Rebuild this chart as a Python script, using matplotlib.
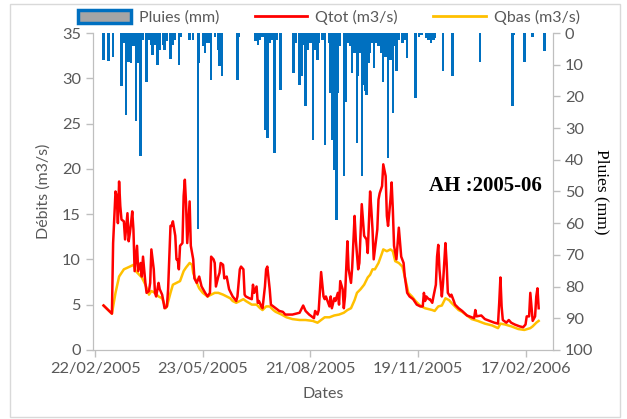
import numpy as np
import pandas as pd
import matplotlib
matplotlib.use('Agg')
import matplotlib.pyplot as plt
import matplotlib.dates as mdates
from matplotlib.patches import Patch, Rectangle
from matplotlib.lines import Line2D

# hydrological year 2005-06, day offsets from 01/03/2005
start = pd.Timestamp('2005-03-01')

qtot_day = [0, 7, 8, 10, 11, 12, 13, 14, 15, 17, 18, 20, 21, 22, 23, 24, 25, 26, 28, 29,
            31, 32, 33, 35, 36, 38, 39, 40, 42, 43, 44, 46, 47, 49, 50, 51, 53, 54, 56, 57,
            58, 60, 61, 62, 63, 64, 66, 67, 68, 69, 70, 72, 73, 75, 76, 78, 80, 82, 85, 87,
            89, 90, 92, 93, 94, 96, 97, 98, 100, 101, 103, 104, 105, 108, 111, 112, 114, 115, 117, 118,
            119, 122, 124, 125, 126, 128, 129, 130, 132, 133, 135, 136, 137, 139, 140, 142, 144, 147, 150, 152,
            158, 164, 167, 169, 172, 175, 176, 177, 179, 180, 182, 184, 185, 186, 189, 190, 191, 193, 194, 196,
            197, 198, 200, 201, 202, 204, 205, 207, 208, 210, 211, 213, 214, 216, 217, 218, 220, 221, 222, 223,
            224, 225, 226, 229, 230, 231, 233, 234, 236, 237, 238, 240, 241, 242, 243, 245, 247, 249, 251, 252,
            254, 256, 259, 262, 265, 267, 268, 269, 270, 272, 273, 275, 276, 278, 279, 280, 281, 283, 284, 286,
            287, 288, 290, 291, 293, 294, 297, 300, 304, 306, 310, 311, 312, 316, 319, 323, 327, 330, 331, 332,
            333, 334, 337, 339, 341, 344, 348, 351, 353, 354, 356, 357, 358, 359, 361, 362, 363, 364]
qtot = [4.9, 4.0, 11.8, 17.5, 17.0, 14.0, 18.6, 15.9, 14.4, 14.2, 12.2, 15.1, 12.0, 12.9, 14.0, 15.3, 13.3, 8.7, 11.5, 8.7,
        9.6, 8.1, 10.3, 7.4, 6.3, 6.5, 7.4, 11.1, 8.9, 6.3, 5.9, 7.4, 6.7, 6.1, 5.4, 4.6, 4.8, 6.7, 13.7, 13.7,
        14.2, 12.6, 10.0, 10.0, 8.9, 11.5, 11.8, 17.0, 18.8, 16.2, 11.8, 16.4, 11.5, 10.0, 7.9, 7.4, 8.1, 7.0, 6.3, 5.9,
        6.3, 10.3, 10.0, 9.6, 7.0, 8.1, 8.5, 9.6, 9.4, 7.9, 8.1, 7.4, 6.7, 5.9, 5.4, 5.9, 8.9, 9.2, 8.9, 6.1,
        5.9, 5.7, 5.6, 7.2, 6.3, 7.0, 5.2, 5.4, 4.8, 4.6, 7.0, 8.9, 9.2, 6.7, 5.0, 4.8, 4.6, 4.3, 4.2, 3.9,
        3.9, 4.1, 4.9, 4.3, 3.9, 3.6, 3.5, 4.3, 3.9, 4.4, 8.6, 5.9, 5.6, 5.9, 4.8, 5.9, 4.6, 5.7, 5.4, 6.3,
        5.0, 7.6, 6.7, 4.6, 5.9, 12.0, 8.9, 7.4, 9.1, 14.8, 12.2, 8.9, 9.6, 16.1, 14.4, 12.6, 12.2, 10.7, 14.0, 17.5,
        15.5, 13.3, 10.0, 13.3, 16.6, 17.3, 18.1, 20.5, 19.2, 14.8, 13.7, 16.6, 18.5, 15.5, 11.5, 10.0, 13.5, 10.3, 9.6, 8.1,
        6.3, 5.9, 5.6, 5.0, 4.8, 4.8, 6.3, 5.4, 5.9, 5.6, 5.6, 5.2, 5.9, 7.2, 10.3, 11.6, 8.9, 5.9, 7.4, 11.8,
        9.6, 6.3, 5.9, 6.1, 5.4, 5.0, 4.6, 4.3, 3.8, 3.7, 3.5, 4.4, 3.7, 3.8, 3.4, 3.2, 3.0, 2.9, 5.2, 8.0,
        4.8, 3.3, 3.0, 3.3, 3.0, 2.8, 2.6, 2.5, 2.8, 3.7, 3.7, 6.3, 4.8, 3.2, 3.7, 5.9, 6.8, 4.6]

qbas_day = [0, 7, 10, 13, 17, 22, 25, 27, 32, 35, 38, 40, 43, 46, 49, 52, 53, 56, 58, 61,
            64, 67, 69, 72, 74, 75, 78, 80, 83, 87, 90, 93, 96, 100, 103, 106, 108, 111, 114, 117,
            119, 124, 128, 131, 133, 136, 139, 142, 144, 149, 153, 158, 164, 169, 175, 179, 182, 185, 189, 193,
            197, 201, 204, 207, 210, 212, 215, 218, 221, 223, 225, 227, 230, 233, 234, 237, 240, 242, 244, 247,
            250, 252, 255, 258, 261, 264, 266, 269, 272, 275, 277, 280, 283, 286, 289, 291, 294, 297, 300, 305,
            308, 313, 319, 325, 330, 332, 336, 341, 347, 352, 357, 359, 362, 364]
qbas = [4.9, 4.0, 6.3, 8.1, 8.9, 9.2, 9.4, 8.7, 8.0, 7.2, 6.1, 6.5, 6.3, 5.9, 5.7, 4.6, 4.8, 6.3, 7.2, 7.4,
        7.6, 8.7, 9.1, 9.6, 9.4, 8.5, 7.4, 6.8, 6.3, 5.9, 6.1, 6.3, 6.3, 6.1, 5.9, 5.7, 5.4, 5.2, 5.4, 5.6,
        5.4, 5.0, 5.0, 4.6, 4.4, 4.8, 4.8, 4.4, 4.2, 3.9, 3.6, 3.4, 3.3, 3.3, 3.2, 3.0, 3.3, 3.6, 3.6, 3.8,
        3.9, 4.1, 4.4, 4.6, 5.5, 6.3, 6.7, 7.2, 8.0, 8.3, 8.9, 8.9, 9.6, 10.7, 11.1, 10.9, 11.1, 10.9, 9.8, 9.6,
        9.2, 8.1, 6.3, 5.9, 5.4, 5.0, 4.8, 4.6, 4.5, 4.4, 4.3, 4.8, 4.9, 5.7, 5.5, 5.2, 4.8, 4.4, 4.2, 3.7,
        3.4, 3.2, 2.9, 2.7, 2.4, 2.9, 2.8, 2.6, 2.3, 2.2, 2.4, 2.6, 3.0, 3.2]

rain_day = [0, 4, 8, 15, 17, 19, 21, 23, 25, 27, 29, 31, 33, 36, 38, 40, 41, 43, 45, 47,
            50, 51, 53, 56, 58, 60, 63, 65, 72, 75, 79, 80, 83, 85, 87, 88, 90, 93, 96, 97,
            99, 112, 113, 127, 129, 131, 133, 135, 137, 139, 141, 143, 145, 148, 159, 161, 164, 166, 167, 169,
            171, 173, 175, 177, 179, 180, 183, 185, 189, 190, 191, 193, 195, 196, 198, 201, 203, 205, 206, 208,
            210, 212, 213, 214, 216, 217, 219, 220, 222, 223, 225, 226, 228, 230, 232, 234, 236, 237, 238, 240,
            242, 243, 245, 247, 250, 252, 254, 261, 264, 266, 270, 272, 274, 276, 277, 284, 292, 315, 342, 343,
            352, 359, 369]
rain_mm = [8.4, 8.9, 7.4, 16.8, 3.2, 25.8, 9.0, 9.5, 4.2, 27.9, 9.5, 38.7, 2.1, 15.3, 2.1, 3.7, 6.8, 3.7, 10.0, 5.3,
           3.7, 5.3, 2.6, 8.2, 3.7, 2.1, 10.0, 1.1, 2.1, 2.1, 62.0, 9.5, 4.2, 6.3, 3.2, 3.2, 14.7, 1.1, 5.3, 10.5,
           13.7, 14.7, 1.1, 2.6, 3.7, 2.1, 1.1, 30.5, 33.1, 3.2, 2.1, 37.9, 2.1, 17.9, 12.6, 3.2, 16.3, 13.7, 3.7, 23.1,
           5.3, 3.2, 33.7, 5.3, 8.4, 3.2, 2.1, 35.2, 3.2, 18.9, 33.7, 43.1, 58.9, 18.9, 4.2, 45.2, 21.6, 3.2, 4.2, 12.6,
           6.3, 34.7, 13.7, 6.3, 45.2, 16.3, 18.4, 19.5, 9.5, 6.3, 3.2, 11.1, 3.2, 4.2, 6.3, 15.3, 7.4, 5.3, 39.4, 8.4,
           25.2, 4.2, 12.1, 2.1, 3.2, 2.1, 7.9, 20.5, 1.1, 0.5, 1.6, 2.1, 3.2, 2.1, 1.6, 12.1, 13.7, 9.0, 22.9, 0.5,
           9.0, 1.1, 5.5]

tick_dates = ['22/02/2005', '23/05/2005', '21/08/2005', '19/11/2005', '17/02/2006']

GRAY = '#595959'
AXC = '#BFBFBF'
plt.rcParams['font.family'] = ['Lato', 'DejaVu Sans']

qtot_dates = start + pd.to_timedelta(qtot_day, unit='D')
qbas_dates = start + pd.to_timedelta(qbas_day, unit='D')
rain_dates = start + pd.to_timedelta(rain_day, unit='D')

fig = plt.figure(figsize=(6.27, 4.19), dpi=100)
ax = fig.add_axes([0.148, 0.165, 0.734, 0.756])
ax2 = ax.twinx()

# flows on the left axis, rain hanging from the top on the right axis
ax.plot(qtot_dates, qtot, color='#FF0000', lw=1.8, zorder=3)
ax.plot(qbas_dates, qbas, color='#FFC000', lw=1.8, zorder=2)
ax2.bar(rain_dates, rain_mm, width=2.0, color='#0070C0', align='center')

ax.set_xlim(pd.Timestamp('2005-02-20'), pd.Timestamp('2006-03-12'))
ax.set_ylim(0, 35)
ax.set_yticks(np.arange(0, 36, 5))
ax2.set_ylim(100, 0)
ax2.set_yticks(np.arange(0, 101, 10))

ticks = pd.to_datetime(tick_dates, format='%d/%m/%Y')
ax.set_xticks(ticks)
ax.xaxis.set_major_formatter(mdates.DateFormatter('%d/%m/%Y'))

for a in (ax, ax2):
    for s in a.spines.values():
        s.set_color(AXC)
    a.spines['top'].set_visible(False)
    a.tick_params(colors=AXC, labelcolor=GRAY, labelsize=11.8, length=5, width=1)

ax.set_ylabel('Débits (m3/s)', color=GRAY, fontsize=11.5, labelpad=8)
ax.set_xlabel('Dates', color=GRAY, fontsize=11.5, labelpad=8)
ax2.set_ylabel('Pluies (mm)', family='Liberation Serif', color='black', fontsize=12.5,
               rotation=270, labelpad=12)

ax.text(0.975, 0.517, 'AH :2005-06', transform=ax.transAxes, ha='right', va='center',
        family='Liberation Serif', fontweight='bold', fontsize=15, color='black')

handles = [Patch(facecolor='#A5A5A5', edgecolor='#0070C0', linewidth=2.5),
           Line2D([], [], color='#FF0000', lw=2),
           Line2D([], [], color='#FFC000', lw=2)]
fig.legend(handles, ['Pluies (mm)', 'Qtot (m3/s)', 'Qbas (m3/s)'], loc='center',
           bbox_to_anchor=(0.525, 0.958), ncol=3, frameon=False, fontsize=11.5,
           handlelength=3.3, handleheight=0.9, columnspacing=2.2, handletextpad=0.5,
           labelcolor=GRAY)

# chart area border
fig.patches.append(Rectangle((0.016, 0.005), 0.973, 0.985, transform=fig.transFigure,
                             fill=False, edgecolor='#D9D9D9', lw=1))

fig.savefig('out.png', dpi=100)
